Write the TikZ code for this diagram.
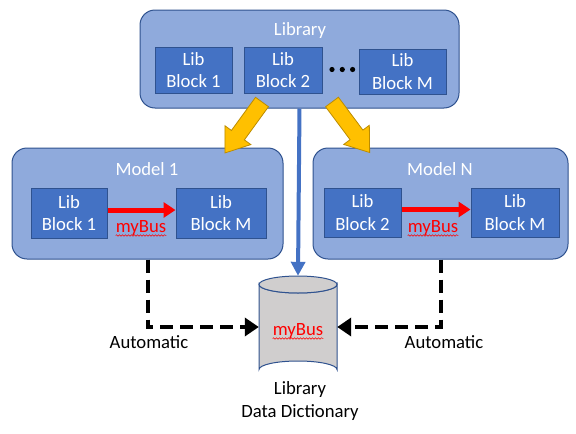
\documentclass[tikz,border=0pt]{standalone}
\usepackage{fontspec}
\setmainfont{Carlito}
\usetikzlibrary{arrows.meta,calc,decorations.pathmorphing}
\definecolor{contfill}{HTML}{8FAADC}
\definecolor{blkfill}{HTML}{4472C4}
\definecolor{bord}{HTML}{2F528F}
\definecolor{ylw}{HTML}{FFC000}
\definecolor{ylwb}{HTML}{BC8C00}
\definecolor{cylfill}{HTML}{D0CECE}
\tikzset{
  txt/.style={font=\fontsize{18.7}{22.5}\selectfont, inner sep=0pt, align=center},
  container/.style={draw=bord, line width=1pt, fill=contfill, rounded corners=15pt, inner sep=0pt},
  libblock/.style={draw=bord, line width=1pt, fill=blkfill, text=white, inner sep=0pt, align=center, font=\fontsize{18.7}{22.5}\selectfont},
  busarrow/.style={draw=red, line width=5pt, -{Triangle[length=12pt,width=15pt]}},
  busname/.style={txt, text=red},
  wavy/.style={draw=red, line width=0.5pt, decorate, decoration={snake, amplitude=0.8pt, segment length=3pt}},
  autoline/.style={draw=black, line width=4pt, dash pattern=on 13pt off 7pt, -{Triangle[length=14pt,width=18pt]}},
  bluearrow/.style={draw=blkfill, line width=4pt, -{Triangle[length=14pt,width=14pt]}},
  yarrow/.style={fill=ylw, draw=ylwb, line width=0.8pt}
}
\begin{document}
\begin{tikzpicture}[x=1pt,y=-1pt]
\useasboundingbox (0,0) rectangle (576,434);
% Library
\node[container, minimum width=319pt, minimum height=98pt] (lib) at (299.5,59) {};
\node[txt, text=white] (libtitle) at (300,31) {Library};
\node[libblock, minimum width=77pt, minimum height=46pt] (lb1) at (193.5,70) {Lib\\Block 1};
\node[libblock, minimum width=78pt, minimum height=46pt] (lb2) at (283,70) {Lib\\Block 2};
\node[libblock, minimum width=87pt, minimum height=45pt] (lbm) at (402.5,71.5) {Lib\\Block M};
\foreach \x/\n in {332/d1,342.3/d2,352.6/d3}
  \fill (\x,69.5) circle (2.6pt) coordinate (\n);
% Model 1
\node[container, minimum width=271pt, minimum height=111pt] (m1) at (147.5,203.5) {};
\node[txt, text=white] (m1title) at (147,169) {Model 1};
\node[libblock, minimum width=76pt, minimum height=50pt] (m1b1) at (69,213) {Lib\\Block 1};
\node[libblock, minimum width=90pt, minimum height=50pt] (m1bm) at (221,213) {Lib\\Block M};
\draw[busarrow] ([yshift=3pt]m1b1.east) -- ([yshift=3pt]m1bm.west);
\node[busname] (bus1) at (141,228) {myBus};
\draw[wavy] ($(bus1.base west)+(0,3)$) -- ($(bus1.base east)+(0,3)$);
% Model N
\node[container, minimum width=255pt, minimum height=111pt] (mn) at (440.5,203.5) {};
\node[txt, text=white] (mntitle) at (440,169) {Model N};
\node[libblock, minimum width=77pt, minimum height=49pt] (mnb1) at (362.5,212.5) {Lib\\Block 2};
\node[libblock, minimum width=88pt, minimum height=49pt] (mnbm) at (515,212.5) {Lib\\Block M};
\draw[busarrow] ([yshift=3pt]mnb1.east) -- ([yshift=3pt]mnbm.west);
\node[busname] (bus2) at (433,228) {myBus};
\draw[wavy] ($(bus2.base west)+(0,3)$) -- ($(bus2.base east)+(0,3)$);
% Data dictionary cylinder
\node[minimum width=78pt, minimum height=102pt, inner sep=0pt] (dd) at (298,327) {};
\filldraw[draw=bord, line width=1pt, fill=cylfill]
  (259,284.5) -- (259,369.5) arc[start angle=180, end angle=360, x radius=39pt, y radius=-8.5pt]
  -- (337,284.5) arc[start angle=0, end angle=180, x radius=39pt, y radius=-8.5pt] -- cycle;
\filldraw[draw=bord, line width=1pt, fill=cylfill] (298,284.5) ellipse[x radius=39pt, y radius=8.5pt];
\node[busname] (bus3) at (298,331) {myBus};
\draw[wavy] ($(bus3.base west)+(0,3)$) -- ($(bus3.base east)+(0,3)$);
\node[txt] (ddlabel) at (300,401) {Library\\Data Dictionary};
% connectors
\draw[bluearrow] (lib.south) -- (dd.north);
\draw[autoline] (m1.south) |- (dd.west);
\draw[autoline] (mn.south) |- (dd.east);
\node[txt] (auto1) at (149,342) {Automatic};
\node[txt] (auto2) at (444,342) {Automatic};
% yellow arrows
\coordinate (ya1) at (262,102);
\coordinate (ya2) at (332,102);
\begin{scope}[shift={(ya1)}, rotate=234]
  \filldraw[yarrow] (0,-8) -- (41,-8) -- (41,-16) -- (63,0) -- (41,16) -- (41,8) -- (0,8) -- cycle;
\end{scope}
\begin{scope}[shift={(ya2)}, rotate=306.7]
  \filldraw[yarrow] (0,-8) -- (41,-8) -- (41,-16) -- (63,0) -- (41,16) -- (41,8) -- (0,8) -- cycle;
\end{scope}
\end{tikzpicture}
\end{document}
